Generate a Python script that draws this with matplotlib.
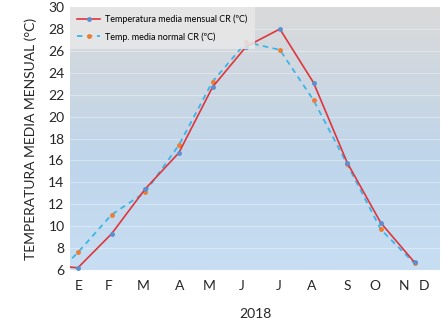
import numpy as np
import matplotlib
matplotlib.use("Agg")
import matplotlib.pyplot as plt

plt.rcParams['font.family'] = ['Lato', 'DejaVu Sans']

meses = ["E", "F", "M", "A", "M", "J", "J", "A", "S", "O", "N", "D"]
# valor de diciembre anterior (fuera del eje) + enero..noviembre
temp_mensual = [6.5, 6.2, 9.3, 13.4, 16.7, 22.7, 26.4, 28.0, 23.1, 15.8, 10.3, 6.7]
temp_normal = [4.5, 7.6, 11.05, 13.1, 17.4, 23.2, 26.8, 26.1, 21.5, 15.65, 9.7, 6.6]

x = np.arange(-1, len(temp_mensual) - 1)
# posiciones de las etiquetas de mes (eje de fechas)
tick_pos = [0.03, 0.9, 1.95, 3.02, 3.9, 4.86, 5.96, 6.95, 7.99, 8.81, 9.68, 10.29]

fig = plt.figure(figsize=(4.41, 3.23), dpi=100)
ax = fig.add_axes([0.159, 0.164, 0.839, 0.814])

xlim = (-0.23, 10.76)
ylim = (6, 30)

# fondo degradado gris -> azul
top = np.array([218, 218, 218]) / 255
bot = np.array([200, 222, 242]) / 255
mid = np.array([190, 213, 235]) / 255
t = np.linspace(0, 1, 256)[:, None]
grad = np.where(t < 0.6, top + (mid - top) * (t / 0.6), mid + (bot - mid) * ((t - 0.6) / 0.4))
ax.imshow(grad[:, None, :], extent=[xlim[0], xlim[1], ylim[0], ylim[1]],
          aspect='auto', zorder=0, origin='upper')

for v in range(8, 30, 2):
    ax.axhline(v, color='white', alpha=0.35, lw=0.8, zorder=1)

ax.plot(x, temp_mensual, color='#e0353b', lw=1.2, marker='o', ms=2.5,
        mfc='#5b8fd0', mec='#5b8fd0', zorder=3,
        label="Temperatura media mensual CR (ºC)")
ax.plot(x, temp_normal, color='#3db5e6', lw=1.3, ls=(0, (3, 2.5)), marker='o', ms=2.5,
        mfc='#ed7d31', mec='#ed7d31', zorder=2,
        label="Temp. media normal CR (ºC)")

ax.set_xlim(*xlim)
ax.set_ylim(*ylim)
ax.set_yticks(range(6, 31, 2))
ax.set_xticks(tick_pos)
ax.set_xticklabels(meses)
ax.tick_params(axis='x', length=0, labelsize=10, colors='#262626', pad=7)
ax.tick_params(axis='y', length=0, labelsize=10, colors='#262626', pad=4)
for s in ax.spines.values():
    s.set_visible(False)

ax.set_xlabel("2018", fontsize=10, color='#262626', labelpad=12)
ax.set_ylabel("TEMPERATURA MEDIA MENSUAL (°C)", fontsize=10, color='#262626', labelpad=8)

leg = ax.legend(loc='upper left', fontsize=6.5, frameon=True, fancybox=False,
                borderaxespad=0, handlelength=2.5, borderpad=0.8, labelspacing=0.9,
                handletextpad=0.6)
leg.get_frame().set_facecolor('#e8e8e8')
leg.get_frame().set_edgecolor('none')
leg.get_frame().set_alpha(0.85)

fig.savefig("out.png", dpi=100)
